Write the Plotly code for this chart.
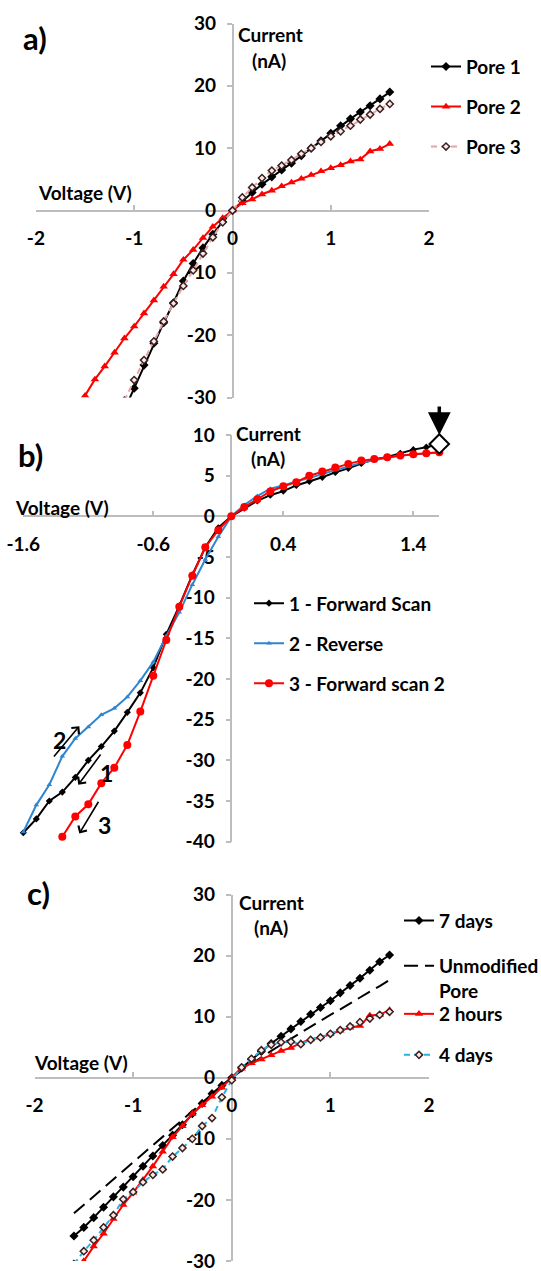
import plotly.graph_objects as go

W, H = 541, 1271

# ---------------- data: panel a ----------------
a_pore1_v = [-1.1, -1.0, -0.9, -0.8, -0.7, -0.6, -0.5, -0.4, -0.3, -0.2, -0.1, 0.0,
             0.1, 0.2, 0.3, 0.4, 0.5, 0.6, 0.7, 0.8, 0.9, 1.0, 1.1, 1.2, 1.3, 1.4, 1.5, 1.6]
a_pore1_i = [-32.0, -28.5, -24.8, -21.3, -18.0, -14.8, -11.3, -8.5, -6.0, -3.8, -1.8, 0.0,
             1.5, 2.9, 4.2, 5.4, 6.5, 7.6, 8.8, 10.0, 11.2, 12.4, 13.6, 14.7, 15.8, 16.8, 17.9, 19.0]
a_pore2_v = [-1.5, -1.4, -1.3, -1.2, -1.1, -1.0, -0.9, -0.8, -0.7, -0.6, -0.5, -0.4, -0.3, -0.2, -0.1, 0.0,
             0.1, 0.2, 0.3, 0.4, 0.5, 0.6, 0.7, 0.8, 0.9, 1.0, 1.1, 1.2, 1.3, 1.4, 1.5, 1.6]
a_pore2_i = [-29.7, -27.1, -25.0, -22.8, -20.5, -18.6, -16.5, -14.4, -12.2, -10.2, -7.9, -6.3, -4.4, -2.6, -1.2, 0.0,
             1.2, 1.8, 2.6, 3.2, 3.9, 4.5, 5.1, 5.7, 6.3, 6.8, 7.3, 7.9, 8.2, 9.5, 9.9, 10.7]
a_pore3_v = [-1.1, -1.0, -0.9, -0.8, -0.7, -0.6, -0.5, -0.4, -0.3, -0.2, -0.1, 0.0,
             0.1, 0.2, 0.3, 0.4, 0.5, 0.6, 0.7, 0.8, 0.9, 1.0, 1.1, 1.2, 1.3, 1.4, 1.5, 1.6]
a_pore3_i = [-30.5, -27.2, -24.0, -21.0, -17.8, -14.9, -12.1, -9.6, -6.9, -4.3, -1.9, 0.0,
             2.1, 3.7, 5.2, 6.4, 7.2, 8.1, 9.1, 10.0, 11.0, 11.9, 12.7, 13.6, 14.6, 15.4, 16.3, 17.1]

# ---------------- data: panel b ----------------
b_fwd_v = [-1.6, -1.5, -1.4, -1.3, -1.2, -1.1, -1.0, -0.9, -0.8, -0.7, -0.6, -0.5, -0.4, -0.3, -0.2, -0.1, 0.0,
           0.1, 0.2, 0.3, 0.4, 0.5, 0.6, 0.7, 0.8, 0.9, 1.0, 1.1, 1.2, 1.3, 1.4, 1.5, 1.6]
b_fwd_i = [-38.9, -37.2, -35.0, -33.9, -32.1, -30.0, -28.3, -26.4, -24.1, -21.7, -18.6, -14.5, -11.0, -7.2, -3.8, -1.4, 0.0,
           1.0, 1.9, 2.6, 3.1, 3.8, 4.3, 4.8, 5.4, 5.9, 6.5, 7.0, 7.3, 7.75, 8.2, 8.5, 8.9]
b_rev_v = [-1.6, -1.5, -1.4, -1.3, -1.2, -1.1, -1.0, -0.9, -0.8, -0.7, -0.6, -0.5, -0.4, -0.3, -0.2, -0.1, 0.0,
           0.1, 0.2, 0.3, 0.4, 0.5, 0.6, 0.7, 0.8, 0.9, 1.0, 1.1, 1.2, 1.3, 1.4, 1.5, 1.6]
b_rev_i = [-38.8, -35.5, -33.0, -29.5, -27.3, -25.9, -24.4, -23.6, -22.2, -20.2, -17.9, -14.7, -11.8, -8.4, -5.3, -2.5, 0.0,
           1.4, 2.5, 3.4, 3.8, 4.3, 4.7, 5.2, 5.7, 6.1, 6.6, 6.9, 7.2, 7.5, 7.6, 7.75, 7.85]
b_fwd2_v = [-1.3, -1.2, -1.1, -1.0, -0.9, -0.8, -0.7, -0.6, -0.5, -0.4, -0.3, -0.2, -0.1, 0.0,
            0.1, 0.2, 0.3, 0.4, 0.5, 0.6, 0.7, 0.8, 0.9, 1.0, 1.1, 1.2, 1.3, 1.4, 1.5, 1.6]
b_fwd2_i = [-39.4, -36.9, -35.4, -32.8, -30.9, -28.1, -24.0, -19.6, -15.2, -11.1, -7.3, -3.8, -1.7, 0.0,
            1.15, 2.1, 3.06, 3.7, 4.2, 5.0, 5.5, 6.0, 6.45, 6.85, 7.06, 7.27, 7.47, 7.63, 7.75, 7.88]

# ---------------- data: panel c ----------------
c_sweep_v = [-1.6, -1.5, -1.4, -1.3, -1.2, -1.1, -1.0, -0.9, -0.8, -0.7, -0.6, -0.5, -0.4, -0.3, -0.2, -0.1, 0.0,
             0.1, 0.2, 0.3, 0.4, 0.5, 0.6, 0.7, 0.8, 0.9, 1.0, 1.1, 1.2, 1.3, 1.4, 1.5, 1.6]
c_days7_i = [-25.9, -24.5, -22.9, -21.2, -19.5, -17.9, -16.2, -14.5, -12.8, -11.1, -9.4, -7.7, -5.9, -4.2, -2.6, -1.25, 0.0,
             1.6, 3.0, 4.3, 5.6, 6.8, 8.0, 9.2, 10.4, 11.5, 12.6, 13.9, 15.1, 16.3, 17.6, 19.0, 20.1]
c_unmod_i = [-22.2, -20.8, -19.4, -18.0, -16.6, -15.2, -13.8, -12.4, -11.0, -9.6, -8.2, -6.8, -5.4, -4.0, -2.7, -1.4, 0.0,
             1.2, 2.3, 3.4, 4.4, 5.4, 6.4, 7.4, 8.4, 9.3, 10.3, 11.2, 12.2, 13.1, 14.1, 15.0, 16.0]
c_hours2_v = [-1.5, -1.4, -1.3, -1.2, -1.1, -1.0, -0.9, -0.8, -0.7, -0.6, -0.5, -0.4, -0.3, -0.2, -0.1, 0.0,
              0.1, 0.2, 0.3, 0.4, 0.5, 0.6, 0.7, 0.8, 0.9, 1.0, 1.1, 1.2, 1.3, 1.4, 1.5, 1.6]
c_hours2_i = [-30.0, -27.6, -25.5, -23.1, -20.8, -18.8, -16.7, -14.5, -12.1, -9.7, -7.9, -5.9, -4.5, -3.1, -1.6, 0.0,
              1.5, 2.4, 3.0, 3.7, 4.4, 4.9, 5.7, 6.3, 6.6, 7.2, 7.7, 8.2, 8.5, 10.2, 10.3, 11.1]
c_days4_i = [-30.5, -28.4, -26.6, -24.5, -22.5, -19.9, -18.7, -17.1, -15.9, -15.0, -12.9, -11.5, -10.0, -7.9, -6.6, -3.2, -0.4,
             1.7, 3.1, 4.5, 5.4, 5.8, 5.9, 5.5, 6.2, 6.6, 7.2, 7.8, 8.4, 9.1, 9.7, 10.3, 10.8]

# tick labels
ticks_v_ac = [-2, -1, 0, 1, 2]
ticks_i_ac = [-30, -20, -10, 0, 10, 20, 30]
ticks_v_b = [-1.6, -0.6, 0.4, 1.4]
ticks_i_b = [-40, -35, -30, -25, -20, -15, -10, -5, 0, 5, 10]

# ---------------- styling ----------------
FONT = "Lato"
BLACK = "#000000"
RED = "#FF0000"
PINK = "#E6A3A3"
BLUE = "#2E86D1"
CYAN = "#25B3E6"
AXIS = "#BDBDBD"
FS = 19


def fx(px):
    return px / W


def fy(py):
    return 1 - py / H


def bold(size):
    return dict(family=FONT, size=size, color="black", weight="bold")


fig = go.Figure()

open_marker = dict(symbol="diamond", size=5.5, color="#FCE8E8",
                   line=dict(color="#3A2020", width=1.5))

# panel a
fig.add_trace(go.Scatter(x=a_pore1_v, y=a_pore1_i, name="Pore 1", mode="lines+markers",
                         line=dict(color=BLACK, width=2),
                         marker=dict(symbol="diamond", size=7, color=BLACK),
                         xaxis="x", yaxis="y", legend="legend"))
fig.add_trace(go.Scatter(x=a_pore2_v, y=a_pore2_i, name="Pore 2", mode="lines+markers",
                         line=dict(color=RED, width=2),
                         marker=dict(symbol="triangle-up", size=7.5, color=RED),
                         xaxis="x", yaxis="y", legend="legend2"))
fig.add_trace(go.Scatter(x=a_pore3_v, y=a_pore3_i, name="Pore 3", mode="lines+markers",
                         line=dict(color=PINK, width=2, dash="6px,4px"),
                         marker=open_marker,
                         xaxis="x", yaxis="y", legend="legend3"))

# panel b
fig.add_trace(go.Scatter(x=b_fwd_v, y=b_fwd_i, name="1 - Forward Scan", mode="lines+markers",
                         line=dict(color=BLACK, width=2),
                         marker=dict(symbol="diamond", size=5.5, color=BLACK),
                         cliponaxis=False,
                         xaxis="x2", yaxis="y2", legend="legend4"))
fig.add_trace(go.Scatter(x=b_rev_v, y=b_rev_i, name="2 - Reverse", mode="lines+markers",
                         line=dict(color=BLUE, width=2),
                         marker=dict(symbol="triangle-up", size=5, color=BLUE),
                         cliponaxis=False,
                         xaxis="x2", yaxis="y2", legend="legend5"))
fig.add_trace(go.Scatter(x=b_fwd2_v, y=b_fwd2_i, name="3 - Forward scan 2", mode="lines+markers",
                         line=dict(color=RED, width=2),
                         marker=dict(symbol="circle", size=8, color=RED),
                         cliponaxis=False,
                         xaxis="x2", yaxis="y2", legend="legend6"))
fig.add_trace(go.Scatter(x=[b_fwd_v[-1]], y=[b_fwd_i[-1]], mode="markers", showlegend=False,
                         marker=dict(symbol="diamond", size=15, color="white",
                                     line=dict(color=BLACK, width=2)),
                         cliponaxis=False, hoverinfo="skip",
                         xaxis="x2", yaxis="y2"))

# panel c
fig.add_trace(go.Scatter(x=c_sweep_v, y=c_days7_i, name="7 days", mode="lines+markers",
                         line=dict(color=BLACK, width=2),
                         marker=dict(symbol="diamond", size=7, color=BLACK),
                         xaxis="x3", yaxis="y3", legend="legend7"))
fig.add_trace(go.Scatter(x=c_sweep_v, y=c_unmod_i, name="Unmodified<br>Pore", mode="lines",
                         line=dict(color=BLACK, width=2, dash="14px,7px"),
                         xaxis="x3", yaxis="y3", legend="legend8"))
fig.add_trace(go.Scatter(x=c_hours2_v, y=c_hours2_i, name="2 hours", mode="lines+markers",
                         line=dict(color=RED, width=2),
                         marker=dict(symbol="triangle-up", size=7.5, color=RED),
                         xaxis="x3", yaxis="y3", legend="legend9"))
fig.add_trace(go.Scatter(x=c_sweep_v, y=c_days4_i, name="4 days", mode="lines+markers",
                         line=dict(color=CYAN, width=2, dash="6px,4px"),
                         marker=open_marker,
                         xaxis="x3", yaxis="y3", legend="legend10"))


def xax(dom, rng, pos, tv):
    return dict(domain=[fx(dom[0]), fx(dom[1])], range=rng, anchor="free", position=fy(pos),
                tickvals=tv, ticktext=[str(v) for v in tv], ticks="inside", ticklen=5,
                tickcolor=AXIS, tickwidth=1.5,
                showline=True, linecolor=AXIS, linewidth=1.5, showgrid=False, zeroline=False,
                tickfont=bold(FS), ticklabelstandoff=11, ticklabeloverflow="allow",
                layer="below traces", fixedrange=True)


def yax(dom, rng, pos, tv):
    return dict(domain=[fy(dom[1]), fy(dom[0])], range=rng, anchor="free", position=fx(pos),
                tickvals=tv, ticktext=[str(v) for v in tv], ticks="outside", ticklen=5,
                tickcolor=AXIS, tickwidth=1.5,
                showline=True, linecolor=AXIS, linewidth=1.5, showgrid=False, zeroline=False,
                tickfont=bold(FS), ticklabelstandoff=7, ticklabeloverflow="allow",
                layer="below traces", fixedrange=True)


layout = dict(
    width=W, height=H, margin=dict(l=0, r=0, t=0, b=0, autoexpand=False),
    paper_bgcolor="white", plot_bgcolor="white",
    xaxis=xax((35.9, 429.1), [-2, 2], 210.5, ticks_v_ac),
    yaxis=yax((23.5, 397.5), [-30, 30], 232.5, ticks_i_ac),
    xaxis2=xax((23.3, 439.3), [-1.6, 1.6], 516.3, ticks_v_b),
    yaxis2=yax((435.0, 841.7), [-40, 10], 231.3, ticks_i_b),
    xaxis3=xax((34.5, 429.0), [-2, 2], 1077.8, ticks_v_ac),
    yaxis3=yax((894.5, 1261.0), [-30, 30], 231.7, ticks_i_ac),
)

# legends (one per entry so each sits at its own row)
legend_rows = [
    ("legend", 426, 66.7), ("legend2", 426, 106.7), ("legend3", 426, 146.7),
    ("legend4", 249, 603.3), ("legend5", 249, 643.3), ("legend6", 249, 683.3),
    ("legend7", 399, 920.7), ("legend8", 399, 962.0), ("legend9", 399, 1014.0), ("legend10", 399, 1055.0),
]
for name, lx, ly in legend_rows:
    layout[name] = dict(x=fx(lx), y=fy(ly), xanchor="left", yanchor="middle",
                        bgcolor="rgba(0,0,0,0)", borderwidth=0, font=bold(FS), valign="top",
                        itemwidth=30, tracegroupgap=0, itemclick=False, itemdoubleclick=False)
layout["legend8"]["yanchor"] = "top"
layout["legend8"]["y"] = fy(962.0 - 15)

fig.update_layout(**layout)

annotations = []


def text_ann(txt, px, py, size=FS):
    annotations.append(dict(text=txt, x=fx(px), y=fy(py), xref="paper", yref="paper",
                            showarrow=False, font=bold(size), xanchor="center", yanchor="middle"))


# panel labels
text_ann("a)", 35, 38, 31)
text_ann("b)", 31, 455, 31)
text_ann("c)", 38, 893, 31)
# axis titles
text_ann("Voltage (V)", 85, 192)
text_ann("Current", 270, 34.5)
text_ann("(nA)", 269, 60)
text_ann("Voltage (V)", 62, 507.5)
text_ann("Current", 268, 433.5)
text_ann("(nA)", 268, 458.5)
text_ann("Voltage (V)", 81, 1062.5)
text_ann("Current", 271, 902.5)
text_ann("(nA)", 271, 927.5)

# scan direction arrows in panel b
arrows_b = [
    ((-1.169, -25.8), (-1.374, -29.7)),
    ((-1.177, -33.0), (-0.997, -29.1)),
    ((-1.169, -39.0), (-1.015, -34.9)),
]
for (hx, hy), (tx, ty) in arrows_b:
    annotations.append(dict(x=hx, y=hy, ax=tx, ay=ty, xref="x2", yref="y2", axref="x2", ayref="y2",
                            text="", showarrow=True, arrowhead=4, arrowsize=1.2, arrowwidth=1.6,
                            arrowcolor=BLACK, standoff=0, startstandoff=0))
scan_labels = [("2", -1.323, -27.5), ("1", -0.958, -31.5), ("3", -0.979, -37.9)]
for t, vx, iy in scan_labels:
    annotations.append(dict(text=t, x=vx, y=iy, xref="x2", yref="y2", showarrow=False,
                            font=bold(23), xanchor="center", yanchor="middle"))

# marker arrow at end of forward scan
annotations.append(dict(x=b_fwd_v[-1], y=10.0, xref="x2", yref="y2", ax=0, ay=-30, text="",
                        showarrow=True, arrowhead=2, arrowsize=1.3, arrowwidth=3.5,
                        arrowcolor=BLACK, standoff=0))

fig.update_layout(annotations=annotations)

fig.write_html("out.html")
